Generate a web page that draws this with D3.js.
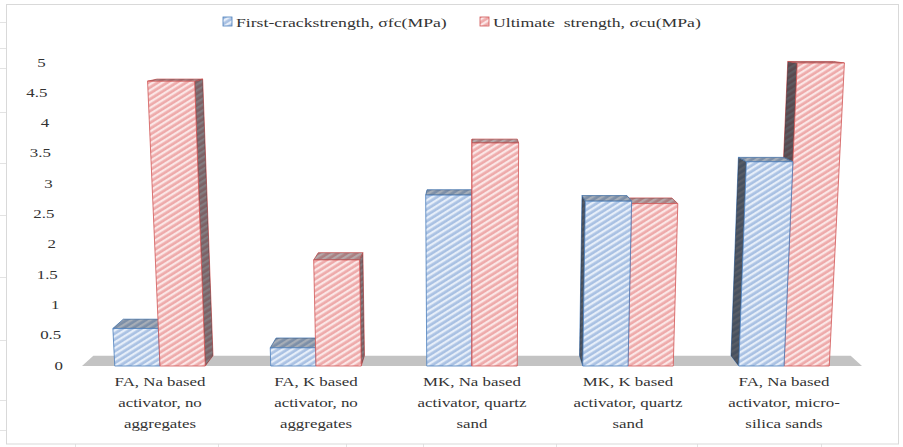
<!DOCTYPE html>
<html>
<head>
<meta charset="utf-8">
<script src="https://cdn.jsdelivr.net/npm/d3@7"></script>
<style>
  html, body { margin: 0; padding: 0; background: #fff; }
  svg { display: block; }
  text { font-family: "Liberation Serif", "Times New Roman", serif; fill: #333; }
</style>
</head>
<body>
<svg id="chart" width="903" height="447"></svg>
<script>
// Mix designs (one group per label, one line per array entry)
const categories = [
  ["FA, Na based", "activator, no", "aggregates"],
  ["FA, K based", "activator, no", "aggregates"],
  ["MK, Na based", "activator, quartz", "sand"],
  ["MK, K based", "activator, quartz", "sand"],
  ["FA, Na based", "activator, micro-", "silica sands"]
];
const seriesNames = ["First-crackstrength, σfc(MPa)", "Ultimate  strength, σcu(MPa)"];
const firstCrack = [0.62, 0.30, 2.82, 2.72, 3.37];
const ultimate   = [4.70, 1.75, 3.68, 2.68, 5.00];
const yTicks = [0, 0.5, 1, 1.5, 2, 2.5, 3, 3.5, 4, 4.5, 5];

const W = 903, H = 447;
const svg = d3.select("#chart");

// Colours per series: base, stripe, outline
const palette = [
  { base: "#a9c1e3", stripe: "#e6eef9", line: "#4a7ebb" },
  { base: "#eeaaaa", stripe: "#fbe6e6", line: "#d05555" }
];

// Scales
const floorL = 82, floorR = 862, baseY = 366;
const x0 = d3.scaleBand().domain(d3.range(categories.length)).range([floorL, floorR]);
const bw = x0.bandwidth();
const x1 = d3.scaleBand().domain([0, 1]).range([0.21 * bw, 0.79 * bw]);
const y = d3.scaleLinear().domain([0, 5]).range([baseY, 63]);

// Perspective: vertical edges spread with height, depth recedes to a vanishing point
const cx = (floorL + floorR) / 2, vy = 10, depthK = 0.029, spread = 1.4e-4;
function proj(X, v, z) {
  const yy = y(v);
  const h = baseY - yy;
  const xf = cx + (X - cx) * (1 + spread * h);
  return [xf + (cx - xf) * depthK * z, yy + (vy - yy) * depthK * z];
}

// Hatch patterns
const defs = svg.append("defs");
palette.forEach((p, i) => {
  const pat = defs.append("pattern")
    .attr("id", "hatch" + i)
    .attr("patternUnits", "userSpaceOnUse")
    .attr("width", 8).attr("height", 5)
    .attr("patternTransform", "rotate(-32)");
  pat.append("rect").attr("width", 8).attr("height", 5).attr("fill", p.base);
  pat.append("rect").attr("y", 0).attr("width", 8).attr("height", 2.3).attr("fill", p.stripe);
});

// Frame and sheet grid lines around the chart
const sheetRows = [22, 48, 68, 112, 163, 215, 277, 340, 400, 430];
const sheetCols = [75, 218, 346, 423, 556, 697, 821];
const grid = svg.append("g").attr("stroke", "#e3e3e3").attr("stroke-width", 1);
sheetRows.forEach(r => grid.append("line").attr("x1", 0).attr("x2", 6).attr("y1", r + 0.5).attr("y2", r + 0.5));
sheetCols.forEach(c => grid.append("line").attr("x1", c + 0.5).attr("x2", c + 0.5).attr("y1", 444).attr("y2", H));
svg.append("rect").attr("x", 6.5).attr("y", 4.5).attr("width", 892).attr("height", 439.5)
  .attr("fill", "#fff").attr("stroke", "#d9d9d9");

// Floor
const floorPts = [[floorL, 0, 0], [floorR, 0, 0], [floorR, 0, 1], [floorL, 0, 1]].map(d => proj(...d));
svg.append("polygon").attr("points", floorPts.map(p => p.join(",")).join(" ")).attr("fill", "#c3c3c3");

// Y axis labels (following the leaning left wall)
const yAxis = svg.append("g");
yTicks.forEach(t => {
  const [px] = proj(63, t, 0);
  yAxis.append("text")
    .attr("transform", `translate(${px},${y(t) + 3.5}) scale(1.25,1)`)
    .attr("text-anchor", "end")
    .attr("font-size", 13.5)
    .text(t);
});

// Bars: flatten, then paint those farthest from the centre first
const bars = [];
categories.forEach((c, i) => {
  [firstCrack[i], ultimate[i]].forEach((v, s) => {
    const xl = x0(i) + x1(s), xr = xl + x1.bandwidth();
    bars.push({ i, s, v, xl, xr, mid: (xl + xr) / 2 });
  });
});
bars.sort((a, b) => Math.abs(b.mid - cx) - Math.abs(a.mid - cx));

const poly = pts => pts.map(p => p.join(",")).join(" ");
const barG = svg.append("g");
bars.forEach(b => {
  const p = palette[b.s];
  const g = barG.append("g");
  const FLB = proj(b.xl, 0, 0), FRB = proj(b.xr, 0, 0), FLT = proj(b.xl, b.v, 0), FRT = proj(b.xr, b.v, 0);
  const BLB = proj(b.xl, 0, 1), BRB = proj(b.xr, 0, 1), BLT = proj(b.xl, b.v, 1), BRT = proj(b.xr, b.v, 1);
  const face = (pts, shade) => {
    g.append("polygon").attr("points", poly(pts)).attr("fill", `url(#hatch${b.s})`)
      .attr("stroke", p.line).attr("stroke-width", 0.8).attr("stroke-linejoin", "round");
    if (shade > 0) g.append("polygon").attr("points", poly(pts)).attr("fill", "#20242c").attr("fill-opacity", shade);
  };
  // side face toward the centre
  if (b.mid < cx) face([FRB, FRT, BRT, BRB], 0.55);
  else if (b.mid > cx) face([FLB, FLT, BLT, BLB], 0.72);
  // top
  face([FLT, FRT, BRT, BLT], 0.32);
  // front
  face([FLB, FRB, FRT, FLT], 0);
});

// Category labels
const xLab = svg.append("g");
categories.forEach((lines, i) => {
  const cxg = x0(i) + bw / 2;
  lines.forEach((ln, k) => {
    xLab.append("text")
      .attr("transform", `translate(${cxg},${386 + k * 21}) scale(1.25,1)`)
      .attr("text-anchor", "middle")
      .attr("font-size", 13.5)
      .text(ln);
  });
});

// Legend
const legendX = [223, 480];
const legend = svg.append("g");
seriesNames.forEach((name, s) => {
  legend.append("rect").attr("x", legendX[s]).attr("y", 17).attr("width", 9).attr("height", 9)
    .attr("fill", `url(#hatch${s})`).attr("stroke", palette[s].line).attr("stroke-width", 0.8);
  legend.append("text")
    .attr("transform", `translate(${legendX[s] + 13},27) scale(1.31,1)`)
    .attr("font-size", 13.5)
    .style("white-space", "pre")
    .text(name);
});
</script>
</body>
</html>
